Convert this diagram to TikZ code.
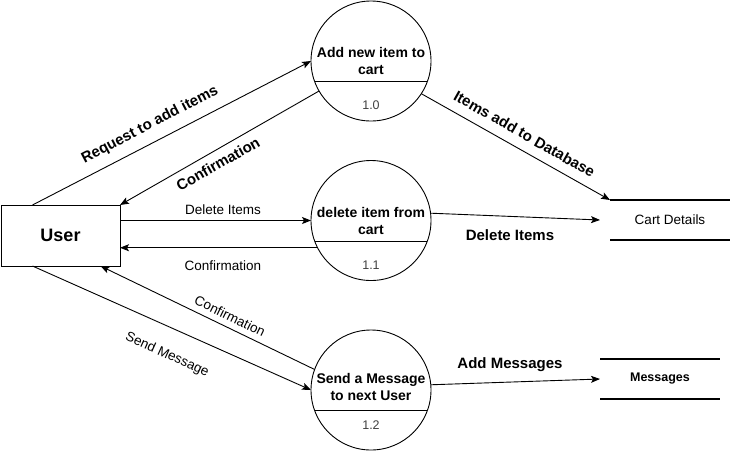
\documentclass[tikz,border=0pt]{standalone}
\usepackage{fontspec}
\setmainfont{Liberation Sans}
\usetikzlibrary{arrows.meta}

\begin{document}
\begin{tikzpicture}
  [x=1pt,y=-1pt,line width=0.9pt,>={Stealth[length=9pt,width=7pt,inset=2pt]},
   every node/.style={inner sep=0pt,outer sep=0pt},
   proc/.style={shape=circle,draw,minimum size=120pt},
   ptext/.style={font=\bfseries\fontsize{14}{17}\selectfont,align=center},
   pnum/.style={font=\fontsize{12.5}{15}\selectfont,text=black!75},
   store/.style={minimum width=120pt,minimum height=40pt,font=\fontsize{13.5}{16}\selectfont},
   dbline/.style={line width=1.8pt},
   flow/.style={font=\fontsize{13.5}{16}\selectfont},
   bflow/.style={font=\bfseries\fontsize{15}{18}\selectfont}]
\useasboundingbox (0,0) rectangle (733,451);

\node [draw,minimum width=119pt,minimum height=61pt,
       font=\bfseries\fontsize{18}{22}\selectfont] (user) at (60.5,235.5) {User};

\node [proc] (p1) at (371,61)    {};
\node [proc] (p2) at (371,220.5) {};
\node [proc] (p3) at (371,390)   {};

\node [ptext] (p1t) at (371,60.5)  {Add new item to\\cart};
\node [ptext] (p2t) at (371,220.5) {delete item from\\cart};
\node [ptext] (p3t) at (371,386.5) {Send a Message\\to next User};
\node [pnum]  (p1n) at (371,105) {1.0};
\node [pnum]  (p2n) at (371,265) {1.1};
\node [pnum]  (p3n) at (371,425) {1.2};

\node [store] (cart) at (670,220) {Cart Details};
\node [store,font=\bfseries\fontsize{12.5}{15}\selectfont] (msgs) at (660,379) {Messages};

% chords of the process circles
\foreach \p in {p1,p2,p3}
  \draw (\p.200) -- (\p.340);
\foreach \s in {cart,msgs}
  \draw [dbline] (\s.north west) -- (\s.north east)
                 (\s.south west) -- (\s.south east);

\draw [->] ([xshift=-28pt]user.north) -- (p1.west);
\draw [->] (p1.210) -- (user.north east);
\draw [->] (user.east |- p2.west) -- (p2.west);
\draw [->] (p2.207) -- (p2.207 -| user.east);
\draw [->] ([xshift=-28pt]user.south) -- (p3.west);
\draw [->] (p3.160) -- ([xshift=40pt]user.south);

\draw [->] (p1.-33) -- (cart.north west);
\draw [->] (p2.7) -- ([xshift=-10pt]cart.west);
\draw [->] (p3.5) -- (msgs.west);

\node [bflow,rotate=27.5]  (lreq)  at (150,125)   {Request to add items};
\node [bflow,rotate=29.7]  (lcf1)  at (218,164)   {Confirmation};
\node [flow]               (ldel)  at (223,210)   {Delete Items};
\node [flow]               (lcf2)  at (223,266)   {Confirmation};
\node [flow,rotate=-26]    (lcf3)  at (230,316)   {Confirmation};
\node [flow,rotate=-24.4]  (lsend) at (167,355)   {Send Message};
\node [bflow,rotate=-29.5] (ldb)   at (524.5,134) {Items add to Database};
\node [bflow]              (ldel2) at (510,235)   {Delete Items};
\node [bflow]              (ladd)  at (510,365)   {Add Messages};
\end{tikzpicture}
\end{document}
